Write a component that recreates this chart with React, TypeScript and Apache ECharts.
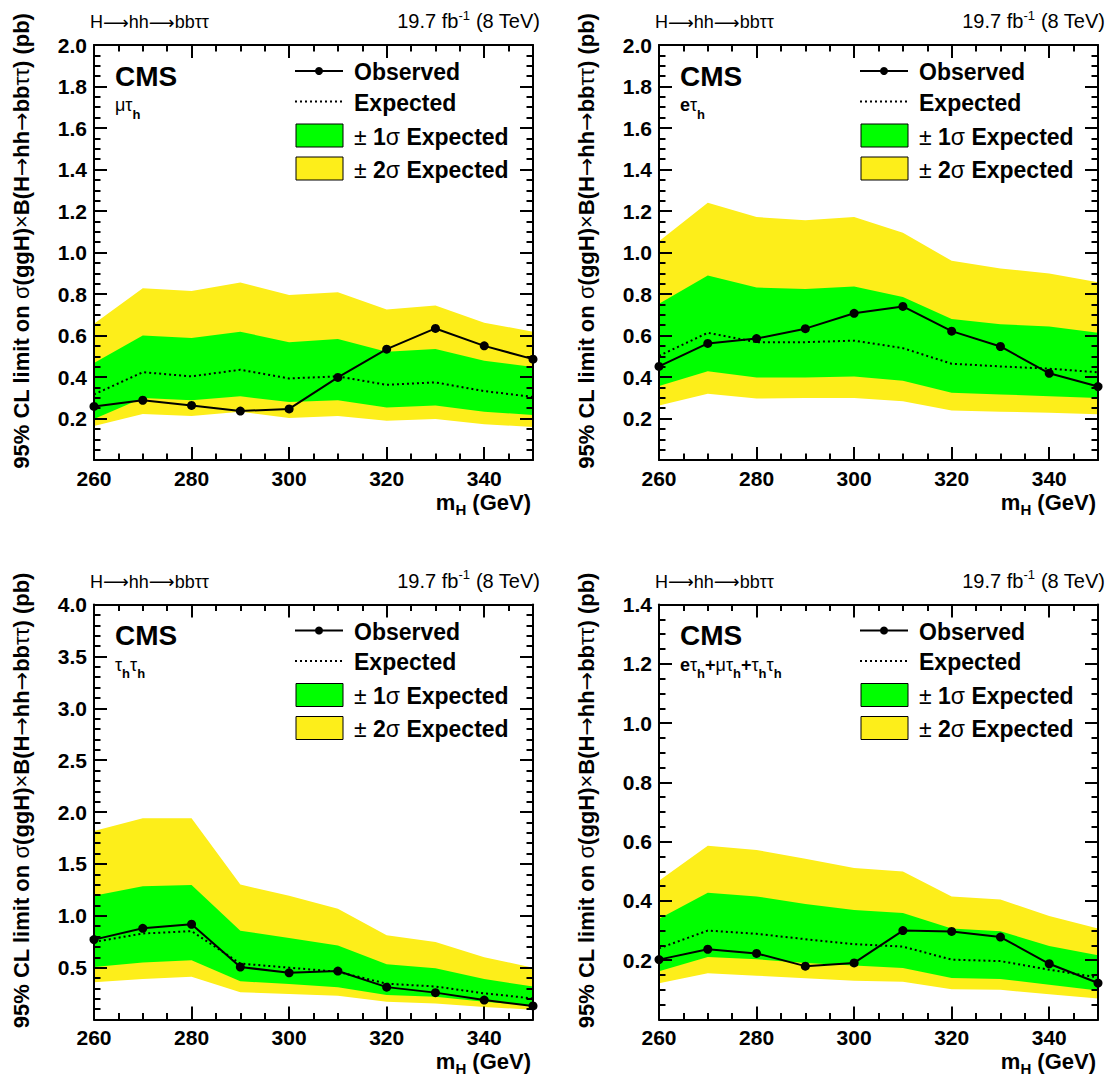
import React, { useEffect, useRef } from "react";
import * as echarts from "echarts";

const FONT = '"Liberation Sans", Arial, Helvetica, sans-serif';
const ARROW_FONT = '"DejaVu Sans", "Liberation Sans", sans-serif';

const MASS = [260, 270, 280, 290, 300, 310, 320, 330, 340, 350];
const X_TICKS = { min: 260, max: 350, interval: 20 };

// mu tau_h
const MT_OBS = [0.258, 0.288, 0.263, 0.236, 0.246, 0.398, 0.534, 0.634, 0.55, 0.486];
const MT_EXP = [0.316, 0.423, 0.403, 0.435, 0.393, 0.403, 0.362, 0.374, 0.332, 0.304];
const MT_S1_HI = [0.468, 0.6, 0.588, 0.618, 0.568, 0.583, 0.522, 0.535, 0.478, 0.448];
const MT_S1_LO = [0.197, 0.299, 0.288, 0.307, 0.279, 0.288, 0.253, 0.263, 0.233, 0.217];
const MT_S2_HI = [0.657, 0.828, 0.814, 0.856, 0.795, 0.808, 0.725, 0.745, 0.662, 0.618];
const MT_S2_LO = [0.164, 0.222, 0.212, 0.233, 0.203, 0.212, 0.189, 0.197, 0.172, 0.159];

// e tau_h
const ET_OBS = [0.451, 0.562, 0.585, 0.633, 0.707, 0.74, 0.621, 0.547, 0.418, 0.354];
const ET_EXP = [0.502, 0.613, 0.568, 0.568, 0.575, 0.539, 0.464, 0.451, 0.44, 0.423];
const ET_S1_HI = [0.753, 0.889, 0.831, 0.824, 0.836, 0.786, 0.679, 0.654, 0.643, 0.613];
const ET_S1_LO = [0.357, 0.428, 0.398, 0.398, 0.402, 0.382, 0.324, 0.316, 0.307, 0.299];
const ET_S2_HI = [1.054, 1.24, 1.171, 1.155, 1.171, 1.095, 0.96, 0.923, 0.899, 0.857];
const ET_S2_LO = [0.263, 0.319, 0.296, 0.299, 0.299, 0.283, 0.238, 0.233, 0.228, 0.22];

// tau_h tau_h
const TT_OBS = [0.77, 0.879, 0.918, 0.506, 0.45, 0.467, 0.312, 0.259, 0.187, 0.131];
const TT_EXP = [0.747, 0.829, 0.852, 0.539, 0.5, 0.46, 0.345, 0.318, 0.252, 0.203];
const TT_S1_HI = [1.192, 1.284, 1.297, 0.856, 0.786, 0.714, 0.533, 0.493, 0.391, 0.318];
const TT_S1_LO = [0.506, 0.549, 0.572, 0.368, 0.341, 0.312, 0.236, 0.22, 0.17, 0.137];
const TT_S2_HI = [1.818, 1.94, 1.94, 1.301, 1.192, 1.067, 0.813, 0.747, 0.599, 0.5];
const TT_S2_LO = [0.358, 0.391, 0.411, 0.262, 0.246, 0.229, 0.17, 0.154, 0.121, 0.094];

// combined
const CB_OBS = [0.202, 0.237, 0.223, 0.18, 0.191, 0.3, 0.297, 0.278, 0.188, 0.123];
const CB_EXP = [0.24, 0.3, 0.289, 0.271, 0.254, 0.246, 0.202, 0.197, 0.168, 0.142];
const CB_S1_HI = [0.34, 0.428, 0.415, 0.39, 0.369, 0.359, 0.307, 0.298, 0.248, 0.217];
const CB_S1_LO = [0.163, 0.211, 0.203, 0.191, 0.182, 0.174, 0.14, 0.137, 0.117, 0.098];
const CB_S2_HI = [0.468, 0.586, 0.572, 0.542, 0.511, 0.499, 0.415, 0.405, 0.349, 0.307];
const CB_S2_LO = [0.122, 0.156, 0.148, 0.139, 0.131, 0.127, 0.102, 0.1, 0.085, 0.071];

const Y_MAX = [2.0, 2.0, 4.0, 1.4];
const Y_INTERVAL = [0.2, 0.2, 0.5, 0.2];
const Y_MINOR = [4, 4, 5, 4];

const CHANNELS = [
  "{r|μτ}{sub|h}",
  "{b|e}{r|τ}{sub|h}",
  "{r|τ}{sub|h}{r|τ}{sub|h}",
  "{b|e}{r|τ}{sub|h}{b|+}{r|μτ}{sub|h}{b|+}{r|τ}{sub|h}{r|τ}{sub|h}",
];

const LEGEND_LABELS = ["Observed", "Expected", "± 1σ Expected", "± 2σ Expected"];

const GREEN = "#00ff00";
const YELLOW = "#fdee1a";

const PANELS = [
  { obs: MT_OBS, exp: MT_EXP, s1hi: MT_S1_HI, s1lo: MT_S1_LO, s2hi: MT_S2_HI, s2lo: MT_S2_LO, dx: 0, dy: 0 },
  { obs: ET_OBS, exp: ET_EXP, s1hi: ET_S1_HI, s1lo: ET_S1_LO, s2hi: ET_S2_HI, s2lo: ET_S2_LO, dx: 565, dy: 0 },
  { obs: TT_OBS, exp: TT_EXP, s1hi: TT_S1_HI, s1lo: TT_S1_LO, s2hi: TT_S2_HI, s2lo: TT_S2_LO, dx: 0, dy: 559.5 },
  { obs: CB_OBS, exp: CB_EXP, s1hi: CB_S1_HI, s1lo: CB_S1_LO, s2hi: CB_S2_HI, s2lo: CB_S2_LO, dx: 565, dy: 559.5 },
];

const tok = (size: number, weight: string, extra: any = {}) => ({
  fontSize: size,
  fontWeight: weight,
  fontFamily: FONT,
  fill: "#000",
  ...extra,
});

function buildOption() {
  const grid: any[] = [];
  const xAxis: any[] = [];
  const yAxis: any[] = [];
  const series: any[] = [];
  const graphic: any[] = [];

  const axisLine = { show: true, onZero: false, lineStyle: { color: "#000", width: 2 } };
  const axisTick = { show: true, inside: true, length: 13, lineStyle: { color: "#000", width: 2 } };
  const labelStyle = { fontSize: 21, fontWeight: "bold", fontFamily: FONT, color: "#000" };

  PANELS.forEach((p, i) => {
    grid.push({
      left: 94 + p.dx,
      top: 45 + p.dy,
      width: 439,
      height: 415,
      containLabel: false,
      outerBoundsMode: "none",
    });
    const minorX = { show: true, splitNumber: 4, length: 6.5, lineStyle: { color: "#000", width: 2 } };
    xAxis.push({
      type: "value",
      gridIndex: i,
      position: "bottom",
      ...X_TICKS,
      z: 5,
      axisLine,
      axisTick,
      minorTick: minorX,
      splitLine: { show: false },
      minorSplitLine: { show: false },
      axisLabel: {
        ...labelStyle,
        margin: 8,
        lineHeight: 20,
        showMaxLabel: false,
        formatter: (v: number) => String(v),
      },
    });
    xAxis.push({
      type: "value",
      gridIndex: i,
      position: "top",
      ...X_TICKS,
      z: 5,
      axisLine,
      axisTick,
      minorTick: minorX,
      splitLine: { show: false },
      axisLabel: { show: false },
    });
    const minorY = { show: true, splitNumber: Y_MINOR[i], length: 6.5, lineStyle: { color: "#000", width: 2 } };
    yAxis.push({
      type: "value",
      gridIndex: i,
      position: "left",
      min: 0,
      max: Y_MAX[i],
      interval: Y_INTERVAL[i],
      z: 5,
      axisLine,
      axisTick,
      minorTick: minorY,
      splitLine: { show: false },
      minorSplitLine: { show: false },
      axisLabel: { ...labelStyle, margin: 7, showMinLabel: false, formatter: (v: number) => v.toFixed(1) },
    });
    yAxis.push({
      type: "value",
      gridIndex: i,
      position: "right",
      min: 0,
      max: Y_MAX[i],
      interval: Y_INTERVAL[i],
      z: 5,
      axisLine,
      axisTick,
      minorTick: minorY,
      splitLine: { show: false },
      axisLabel: { show: false },
    });

    const xi = 2 * i;
    const yi = 2 * i;
    const pts = (arr: number[]) => MASS.map((m, k) => [m, arr[k]]);
    const area = (name: string, arr: number[], color: string) => ({
      type: "line",
      name,
      xAxisIndex: xi,
      yAxisIndex: yi,
      data: pts(arr),
      symbol: "none",
      silent: true,
      z: 2,
      lineStyle: { width: 0, opacity: 0 },
      areaStyle: { color, opacity: 1 },
    });
    series.push(area("+2σ", p.s2hi, YELLOW));
    series.push(area("+1σ", p.s1hi, GREEN));
    series.push(area("-1σ", p.s1lo, YELLOW));
    series.push(area("-2σ", p.s2lo, "#ffffff"));
    series.push({
      type: "line",
      name: "Expected",
      xAxisIndex: xi,
      yAxisIndex: yi,
      data: pts(p.exp),
      symbol: "none",
      z: 6,
      lineStyle: { color: "#000", width: 2, type: [2, 3] },
    });
    series.push({
      type: "line",
      name: "Observed",
      xAxisIndex: xi,
      yAxisIndex: yi,
      data: pts(p.obs),
      symbol: "circle",
      symbolSize: 9,
      z: 7,
      itemStyle: { color: "#000" },
      lineStyle: { color: "#000", width: 2 },
    });

    const dx = p.dx;
    const dy = p.dy;
    // y axis title
    graphic.push({
      type: "text",
      x: 21 + dx,
      y: 241 + dy,
      rotation: Math.PI / 2,
      style: {
        text:
          "{b|95% CL limit on }{s|σ}{b|(ggH)}{s|×}{b|B(H}{a|→}{b|hh}{a|→}{b|bb}{s|ττ}{b|) (pb)}",
        align: "center",
        verticalAlign: "middle",
        rich: {
          b: tok(22, "bold"),
          s: tok(22, "normal"),
          a: { fontSize: 22, fontWeight: "normal", fontFamily: ARROW_FONT, fill: "#000" },
        },
      },
    });
    // x axis title
    graphic.push({
      type: "text",
      x: 531 + dx,
      y: 502 + dy,
      style: {
        text: "{b|m}{sub|H}{b| (GeV)}",
        align: "right",
        verticalAlign: "middle",
        lineHeight: 16,
        rich: {
          b: tok(22, "bold"),
          sub: tok(15, "bold", { height: 2, verticalAlign: "bottom" }),
        },
      },
    });
    // top-left process label
    graphic.push({
      type: "text",
      x: 90 + dx,
      y: 22 + dy,
      style: {
        text: "{n|H}{a|⟶}{n|hh}{a|⟶}{n|bbττ}",
        align: "left",
        verticalAlign: "middle",
        rich: {
          n: tok(18, "normal"),
          a: { fontSize: 18, fontWeight: "normal", fontFamily: ARROW_FONT, fill: "#000" },
        },
      },
    });
    // top-right lumi label
    graphic.push({
      type: "text",
      x: 540 + dx,
      y: 21 + dy,
      style: {
        text: "{n|19.7 fb}{sup|-1}{n| (8 TeV)}",
        align: "right",
        verticalAlign: "middle",
        lineHeight: 20,
        rich: {
          n: tok(20, "normal"),
          sup: tok(13, "normal", { height: 8, verticalAlign: "top" }),
        },
      },
    });
    // CMS
    graphic.push({
      type: "text",
      x: 115 + dx,
      y: 76 + dy,
      style: {
        text: "CMS",
        align: "left",
        verticalAlign: "middle",
        fontSize: 28,
        fontWeight: "bold",
        fontFamily: FONT,
        fill: "#000",
      },
    });
    // channel
    graphic.push({
      type: "text",
      x: 115 + dx,
      y: 105 + dy,
      style: {
        text: CHANNELS[i],
        align: "left",
        verticalAlign: "middle",
        lineHeight: 20,
        rich: {
          r: tok(18, "normal"),
          b: tok(18, "bold"),
          sub: tok(13, "bold", { height: 2, verticalAlign: "bottom" }),
        },
      },
    });
    // legend
    const rows = [71, 101.5, 135.5, 168.5];
    graphic.push({
      type: "line",
      shape: { x1: 295 + dx, y1: rows[0] + dy, x2: 343 + dx, y2: rows[0] + dy },
      style: { stroke: "#000", lineWidth: 2 },
    });
    graphic.push({
      type: "circle",
      shape: { cx: 319 + dx, cy: rows[0] + dy, r: 4 },
      style: { fill: "#000" },
    });
    graphic.push({
      type: "line",
      shape: { x1: 295 + dx, y1: rows[1] + dy, x2: 343 + dx, y2: rows[1] + dy },
      style: { stroke: "#000", lineWidth: 2, lineDash: [2, 3] },
    });
    graphic.push({
      type: "rect",
      shape: { x: 296 + dx, y: rows[2] - 11.5 + dy, width: 47, height: 23 },
      style: { fill: GREEN, stroke: "#000", lineWidth: 1 },
    });
    graphic.push({
      type: "rect",
      shape: { x: 296 + dx, y: rows[3] - 11.5 + dy, width: 47, height: 23 },
      style: { fill: YELLOW, stroke: "#000", lineWidth: 1 },
    });
    const legendTexts = [
      "{b|" + LEGEND_LABELS[0] + "}",
      "{b|" + LEGEND_LABELS[1] + "}",
      "{s|± }{b|1}{s|σ}{b| Expected}",
      "{s|± }{b|2}{s|σ}{b| Expected}",
    ];
    legendTexts.forEach((t, k) => {
      graphic.push({
        type: "text",
        x: 354 + dx,
        y: rows[k] + 1 + dy,
        style: {
          text: t,
          align: "left",
          verticalAlign: "middle",
          rich: { b: tok(23, "bold"), s: tok(23, "normal") },
        },
      });
    });
  });

  return {
    animation: false,
    backgroundColor: "#ffffff",
    grid,
    xAxis,
    yAxis,
    series,
    graphic,
  };
}

export default function App() {
  const ref = useRef<HTMLDivElement>(null);
  useEffect(() => {
    if (!ref.current) return;
    const chart = echarts.init(ref.current, null, { renderer: "svg" });
    chart.setOption(buildOption() as any);
    return () => chart.dispose();
  }, []);
  return (
    <div
      ref={ref}
      style={{ position: "absolute", left: 0, top: 0, width: 1110, height: 1078, background: "#fff" }}
    />
  );
}
